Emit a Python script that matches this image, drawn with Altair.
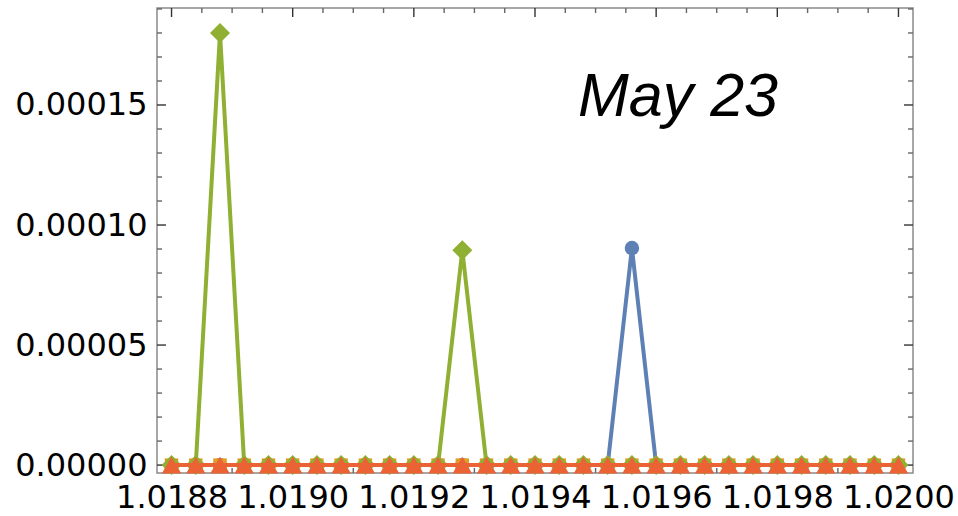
import altair as alt
import pandas as pd

# ---- data ----
x_vals = [1.01880, 1.01884, 1.01888, 1.01892, 1.01896, 1.01900, 1.01904, 1.01908,
          1.01912, 1.01916, 1.01920, 1.01924, 1.01928, 1.01932, 1.01936, 1.01940,
          1.01944, 1.01948, 1.01952, 1.01956, 1.01960, 1.01964, 1.01968, 1.01972,
          1.01976, 1.01980, 1.01984, 1.01988, 1.01992, 1.01996, 1.02000]
blue_vals = [0, 0, 0, 0, 0, 0, 0, 0, 0, 0, 0, 0, 0, 0, 0, 0, 0, 0, 0, 0.0000904,
             0, 0, 0, 0, 0, 0, 0, 0, 0, 0, 0]
orange_vals = [0, 0, 0, 0, 0, 0, 0, 0, 0, 0, 0, 0, 0, 0, 0, 0, 0, 0, 0, 0,
               0, 0, 0, 0, 0, 0, 0, 0, 0, 0, 0]
green_vals = [0, 0, 0.00018, 0, 0, 0, 0, 0, 0, 0, 0, 0, 0.0000895, 0, 0, 0, 0, 0, 0, 0,
              0, 0, 0, 0, 0, 0, 0, 0, 0, 0, 0]
red_vals = [0, 0, 0, 0, 0, 0, 0, 0, 0, 0, 0, 0, 0, 0, 0, 0, 0, 0, 0, 0,
            0, 0, 0, 0, 0, 0, 0, 0, 0, 0, 0]

series_names = ["s1", "s2", "s3", "s4"]
series_colors = ["#5e81b5", "#e19c24", "#8fb032", "#eb6235"]
series_data = [blue_vals, orange_vals, green_vals, red_vals]

x_major = [1.0188, 1.0190, 1.0192, 1.0194, 1.0196, 1.0198, 1.0200]
x_minor = [1.01885, 1.01890, 1.01895, 1.01905, 1.01910, 1.01915, 1.01925, 1.01930,
           1.01935, 1.01945, 1.01950, 1.01955, 1.01965, 1.01970, 1.01975, 1.01985,
           1.01990, 1.01995]
y_major = [0.0, 0.00005, 0.00010, 0.00015]
y_minor = [0.00001, 0.00002, 0.00003, 0.00004, 0.00006, 0.00007, 0.00008, 0.00009,
           0.00011, 0.00012, 0.00013, 0.00014, 0.00016, 0.00017, 0.00018, 0.00019]

annotation = ["May 23"]

# ---- layout ----
W, H = 756, 465
FONT = "DejaVu Sans"

xscale = alt.Scale(domain=[1.018776, 1.020024], nice=False, zero=False)
yscale = alt.Scale(domain=[-0.0000033, 0.0001904], nice=False, zero=False)

xaxis = alt.Axis(values=x_major, format=".4f", ticks=False, domain=False, grid=False,
                 labelFont=FONT, labelFontSize=32, labelColor="#000", labelPadding=9,
                 labelFlush=False, labelOverlap=False, title=None)
yaxis = alt.Axis(values=y_major, format=".5f", ticks=False, domain=False, grid=False,
                 labelFont=FONT, labelFontSize=32, labelColor="#000", labelPadding=10,
                 labelOverlap=False, title=None)

def X():
    return alt.X("x:Q", scale=xscale, axis=xaxis, title=None)

def Y():
    return alt.Y("y:Q", scale=yscale, axis=yaxis, title=None)

shapes = ["circle", "square", "diamond", "triangle-up"]
sizes = [210, 180, 400, 380]

layers = []
for name, color, vals, shape, size in zip(series_names, series_colors, series_data, shapes, sizes):
    df = pd.DataFrame({"x": x_vals, "y": vals})
    base = alt.Chart(df)
    layers.append(base.mark_line(color=color, strokeWidth=4, clip=False).encode(x=X(), y=Y()))
    layers.append(base.mark_point(color=color, filled=True, opacity=1, shape=shape,
                                  size=size, clip=False).encode(x=X(), y=Y()))

# frame ticks (inward)
def xticks(values, length, color):
    d = pd.DataFrame({"x": values})
    bottom = alt.Chart(d).mark_rule(color=color, strokeWidth=1.4).encode(
        x=X(), y=alt.value(H), y2=alt.value(H - length))
    top = alt.Chart(d).mark_rule(color=color, strokeWidth=1.4).encode(
        x=X(), y=alt.value(0), y2=alt.value(length))
    return [bottom, top]

def yticks(values, length, color):
    d = pd.DataFrame({"y": values})
    left = alt.Chart(d).mark_rule(color=color, strokeWidth=1.4).encode(
        y=Y(), x=alt.value(0), x2=alt.value(length))
    right = alt.Chart(d).mark_rule(color=color, strokeWidth=1.4).encode(
        y=Y(), x=alt.value(W), x2=alt.value(W - length))
    return [left, right]

tick_layers = (xticks(x_major, 9, "#333") + xticks(x_minor, 5, "#666")
               + yticks(y_major, 9, "#333") + yticks(y_minor, 5, "#666"))

text_layer = alt.Chart(pd.DataFrame({"label": annotation})).mark_text(
    font="Liberation Sans", fontSize=61, fontStyle="italic", color="#000",
    align="center", baseline="middle").encode(
    x=alt.value(521), y=alt.value(90), text="label:N")

chart = alt.layer(*tick_layers, *layers, text_layer).properties(
    width=W, height=H,
    autosize=alt.AutoSizeParams(type="none"),
    padding={"left": 157, "top": 8, "right": 958 - 157 - W, "bottom": 516 - 8 - H},
    background="white",
).configure_view(stroke="#8a8a8a", strokeWidth=1.5)

chart.save("out.html", embed_options={"renderer": "svg", "actions": False})
